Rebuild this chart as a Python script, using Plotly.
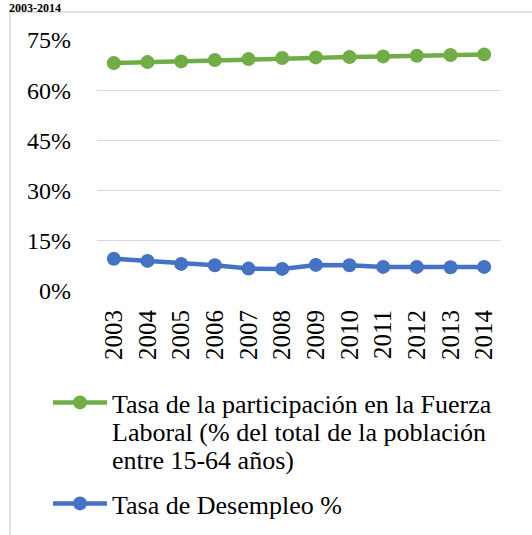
import plotly.graph_objects as go

years = ["2003", "2004", "2005", "2006", "2007", "2008",
         "2009", "2010", "2011", "2012", "2013", "2014"]
participacion = [68.1, 68.4, 68.6, 69.0, 69.3, 69.6, 69.8, 69.9, 70.1, 70.3, 70.5, 70.7]
desempleo = [9.6, 9.0, 8.1, 7.7, 6.7, 6.6, 7.8, 7.7, 7.2, 7.2, 7.1, 7.2]
y_ticks = [0, 15, 30, 45, 60, 75]
y_tick_labels = ["0%", "15%", "30%", "45%", "60%", "75%"]
name_part = "Tasa de la participación en la Fuerza"
name_part_cont = ["Laboral (% del total de la población", "entre 15-64 años)"]
name_des = "Tasa de Desempleo %"
title_text = "2003-2014"

W, H = 532, 535
L, R, T, B = 97, 31, 40, 244
pw, ph = W - L - R, H - T - B

def px_x(p):
    return (p - L) / pw

def px_y(p):
    return (H - B - p) / ph

FONT = "Liberation Serif"
GREEN = "#70AD47"
BLUE = "#4472C4"
LEG_SIZE = 26

fig = go.Figure()
fig.add_trace(go.Scatter(
    x=years, y=participacion, name=name_part, mode="lines+markers",
    line=dict(color=GREEN, width=4.5), marker=dict(color=GREEN, size=14),
    legend="legend",
))
fig.add_trace(go.Scatter(
    x=years, y=desempleo, name=name_des, mode="lines+markers",
    line=dict(color=BLUE, width=4.5), marker=dict(color=BLUE, size=14),
    legend="legend2",
))

leg_common = dict(
    xanchor="left", yanchor="top",
    font=dict(family=FONT, size=LEG_SIZE, color="#000000"),
    bgcolor="rgba(0,0,0,0)", itemwidth=54,
)

fig.update_layout(
    width=W, height=H,
    margin=dict(l=L, r=R, t=T, b=B, pad=0, autoexpand=False),
    paper_bgcolor="white", plot_bgcolor="white",
    font=dict(family=FONT, size=24, color="#000000"),
    showlegend=True,
    legend=dict(x=px_x(48), y=px_y(379), **leg_common),
    legend2=dict(x=px_x(48), y=px_y(480), **leg_common),
    xaxis=dict(
        type="category", range=[-0.5, 11.5], showgrid=False, zeroline=False,
        showline=False, tickangle=-90, ticks="", ticklabelstandoff=13,
        automargin=False,
        tickfont=dict(family=FONT, size=25, color="#000000"),
    ),
    yaxis=dict(
        range=[0, 75], tickvals=y_ticks, ticktext=y_tick_labels,
        showgrid=True, gridcolor="#D9D9D9", gridwidth=1, zeroline=False,
        showline=False, ticks="", ticklabelstandoff=25, automargin=False,
        tickfont=dict(family=FONT, size=24, color="#000000"),
    ),
)

fig.add_shape(type="rect", xref="paper", yref="paper",
              x0=px_x(10), x1=px_x(560), y0=px_y(12), y1=px_y(560),
              line=dict(color="#D9D9D9", width=1.5), fillcolor="rgba(0,0,0,0)",
              layer="below")

# continuation lines of the first legend entry
for txt, ymid in zip(name_part_cont, [432, 461]):
    fig.add_annotation(text=txt, xref="paper", yref="paper",
                       x=px_x(111), y=px_y(ymid), xanchor="left", yanchor="middle",
                       showarrow=False, borderpad=0,
                       font=dict(family=FONT, size=LEG_SIZE, color="#000000"))

fig.add_annotation(text="<b>" + title_text + "</b>", xref="paper", yref="paper",
                   x=px_x(8), y=px_y(0), xanchor="left", yanchor="top",
                   showarrow=False, borderpad=0,
                   font=dict(family=FONT, size=12, color="#000000"))

fig.write_html("out.html", config={"displayModeBar": False},
               post_script="document.body.style.margin='0';document.body.style.padding='0';")
